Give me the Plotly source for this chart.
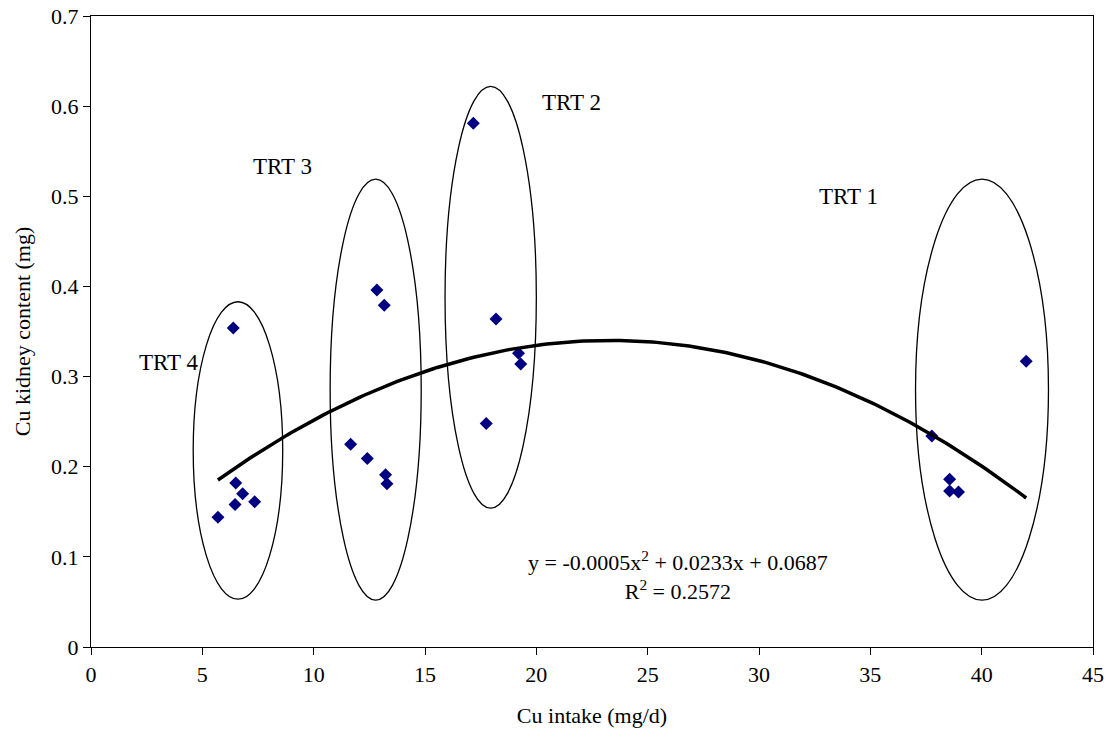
import numpy as np
import plotly.graph_objects as go

# Cu intake (mg/d) and Cu kidney content (mg) per animal, grouped by treatment
trt4_x = [6.39, 6.50, 6.81, 6.47, 7.35, 5.70]
trt4_y = [0.354, 0.182, 0.170, 0.158, 0.161, 0.144]
trt3_x = [12.84, 13.17, 11.66, 12.41, 13.23, 13.29]
trt3_y = [0.396, 0.379, 0.225, 0.209, 0.191, 0.181]
trt2_x = [17.17, 18.19, 19.20, 19.30, 17.75]
trt2_y = [0.581, 0.364, 0.326, 0.314, 0.248]
trt1_x = [42.0, 37.76, 38.56, 38.56, 38.96]
trt1_y = [0.317, 0.234, 0.186, 0.173, 0.172]

# Quadratic trendline coefficients (a x^2 + b x + c) and fit statistic
trend_coef = [-0.0005, 0.0233, 0.0687]
r_squared = 0.2572

# Treatment group outlines: (label, x0, x1, y0, y1)
groups = [
    ("TRT 4", 4.59, 8.61, 0.053, 0.383),
    ("TRT 3", 10.74, 14.83, 0.052, 0.519),
    ("TRT 2", 15.90, 20.00, 0.154, 0.622),
    ("TRT 1", 37.03, 43.00, 0.052, 0.519),
]
group_labels = [("TRT 4", 3.46, 0.316), ("TRT 3", 8.58, 0.5325),
                ("TRT 2", 21.6, 0.6035), ("TRT 1", 34.0, 0.500)]

x_all = trt4_x + trt3_x + trt2_x + trt1_x
y_all = trt4_y + trt3_y + trt2_y + trt1_y

FONT = "Liberation Serif"

fig = go.Figure()

fig.add_trace(go.Scatter(
    x=x_all, y=y_all, mode="markers",
    marker=dict(symbol="diamond", size=10, color="#000080"),
    showlegend=False,
))

xs = np.linspace(min(x_all), max(x_all), 200)
ys = np.polyval(trend_coef, xs)
fig.add_trace(go.Scatter(
    x=xs, y=ys, mode="lines",
    line=dict(color="black", width=3.5),
    showlegend=False,
))

for name, x0, x1, y0, y1 in groups:
    fig.add_shape(type="circle", xref="x", yref="y",
                  x0=x0, x1=x1, y0=y0, y1=y1,
                  line=dict(color="black", width=1.3))

for text, tx, ty in group_labels:
    fig.add_annotation(x=tx, y=ty, text=text, showarrow=False,
                       font=dict(family=FONT, size=23, color="black"))

eq_text = (f"y = {trend_coef[0]:.4f}x<sup>2</sup> + {trend_coef[1]:.4f}x + "
           f"{trend_coef[2]:.4f}<br>R<sup>2</sup> = {r_squared:.4f}")
fig.add_annotation(x=26.36, y=0.079, text=eq_text, showarrow=False,
                   align="center",
                   font=dict(family=FONT, size=22, color="black"))

fig.update_layout(
    width=1111, height=740,
    margin=dict(l=91, r=18, t=16, b=93),
    paper_bgcolor="white", plot_bgcolor="white",
    font=dict(family=FONT, size=22, color="black"),
)
fig.update_xaxes(
    range=[0, 45], dtick=5, tick0=0, automargin=False,
    showgrid=False, zeroline=False,
    showline=True, linecolor="black", linewidth=1.3, mirror=True,
    ticks="outside", ticklen=7, tickcolor="black",
    title=dict(text="Cu intake (mg/d)", font=dict(family=FONT, size=22), standoff=22),
    tickfont=dict(family=FONT, size=22),
)
fig.update_yaxes(
    range=[0, 0.7], dtick=0.1, tick0=0, automargin=False,
    showgrid=False, zeroline=False,
    showline=True, linecolor="black", linewidth=1.3, mirror=True,
    ticks="outside", ticklen=7, tickcolor="black",
    title=dict(text="Cu kidney content (mg)", font=dict(family=FONT, size=22), standoff=14),
    tickfont=dict(family=FONT, size=22),
)

fig.write_html("out.html")
